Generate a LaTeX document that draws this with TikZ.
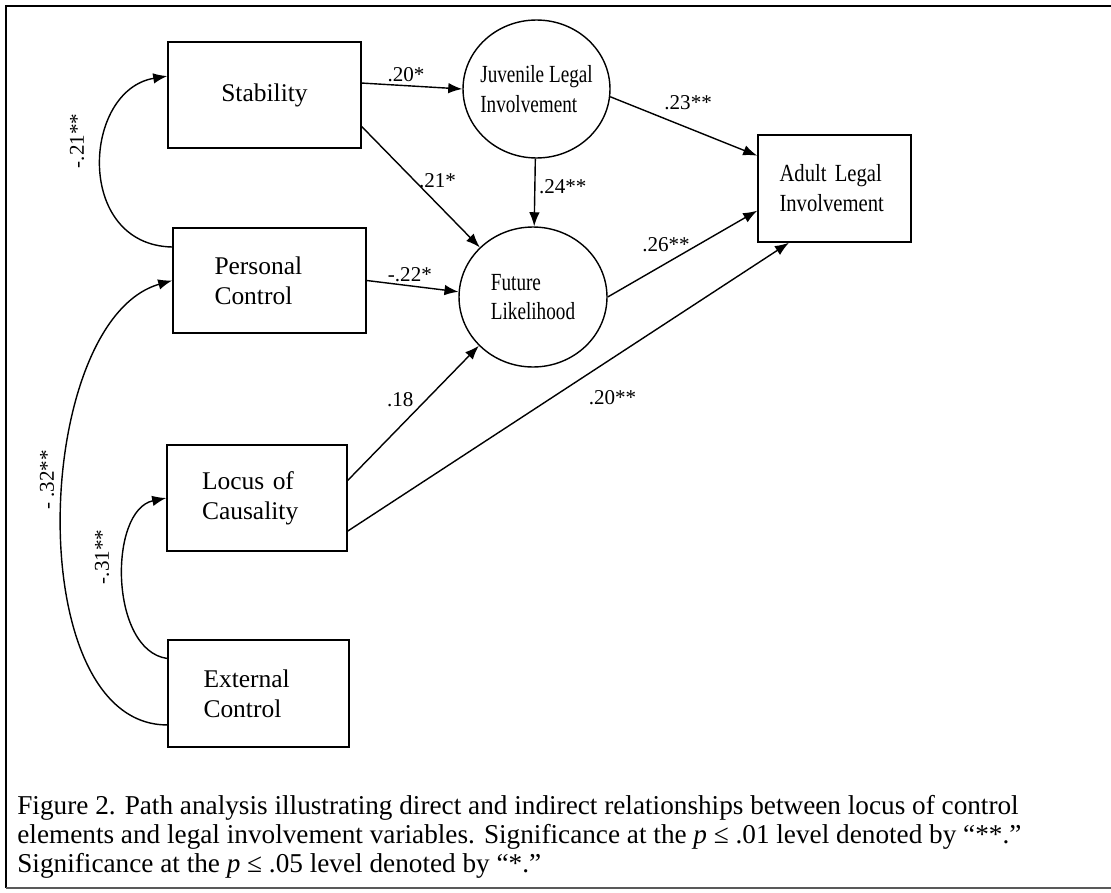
\documentclass[tikz,border=0pt]{standalone}
\usepackage{fontspec}
\setmainfont{Liberation Serif}
\newfontfamily\narrowA[FakeStretch=0.78]{Liberation Serif}
\newfontfamily\narrowB[FakeStretch=0.84]{Liberation Serif}
\usetikzlibrary{shapes.geometric, arrows.meta, calc}

\begin{document}
\begin{tikzpicture}[x=0.02cm, y=-0.02cm, font=\fontsize{14.5}{17}\selectfont]

\tikzstyle{var} = [rectangle, minimum width=3.86cm, minimum height=2.12cm, text width=2.2cm, align=left, inner sep=0pt, draw=black, line width=0.9pt]
\tikzstyle{latent} = [ellipse, minimum width=2.94cm, minimum height=2.76cm, align=left, inner sep=-6pt, draw=black, line width=0.8pt, font=\narrowA\fontsize{14}{17}\selectfont]
\tikzstyle{arrow} = [line width=0.8pt, -{Latex[length=8pt, width=6pt]}]
\tikzstyle{coef} = [font=\fontsize{12}{14}\selectfont, inner sep=2pt]

\useasboundingbox (0,0) rectangle (1111,892);
\draw [line width=1.3pt] (1111,6) -- (6,6) -- (6,888);
\draw [line width=1pt, black!65] (6,888) -- (1111,888);

\node (stab) [var, align=center] at (264.5,95) {Stability};
\node (pc) [var, minimum height=2.10cm] at (269.5,280.5) {Personal\\Control};
\node (loc) [var, minimum width=3.60cm] at (257,498) {Locus of\\Causality};
\node (ext) [var, minimum width=3.62cm, minimum height=2.14cm] at (258.5,693.5) {External\\Control};
\node (adult) [var, minimum width=3.06cm, minimum height=2.14cm, font=\narrowB\fontsize{14}{17}\selectfont] at (834.5,188.5) {Adult Legal\\Involvement};
\node (juv) [latent] at (536.5,89) {Juvenile Legal\\Involvement};
\node (fut) [latent, minimum width=2.96cm, minimum height=2.80cm] at (533,297) {Future\\Likelihood};

\draw [arrow] (stab.7) -- node[coef, pos=0.44, above] (c1) {.20*} (juv.west);
\draw [arrow] (stab.-18) -- node[coef, pos=0.45, right] (c2) {.21*} (fut.137);
\draw [arrow] (juv) -- node[coef, pos=0.42, right] (c3) {.24**} (fut);
\draw [arrow] (juv.-6) -- node[coef, pos=0.53, above=8pt] (c4) {.23**} (adult.157);
\draw [arrow] (fut.east) -- node[coef, pos=0.39, above=4pt] (c5) {.26**} (adult.196);
\draw [arrow] (pc.east) -- node[coef, pos=0.47, above] (c6) {-.22*} (fut.176);
\draw [arrow] (loc.11) -- node[coef, pos=0.6, left=5pt] (c7) {.18} (fut.222);
\draw [arrow] (loc.-20) -- node[coef, pos=0.6, below=16pt] (c8) {.20**} (adult.230);

% correlations between the locus elements
\draw [arrow] (pc.161) .. controls +(-98,-2) and +(-85,14) .. (stab.169);
\draw [arrow] (ext.199) .. controls +(-148,0) and +(-140,40) .. (pc.west);
\draw [arrow] (ext.159) .. controls +(-58,-8) and +(-58,12) .. (loc.west);
\node (r21) [coef, rotate=90] at (77,141) {-.21**};
\node (r32) [coef, rotate=90] at (47,480) {- .32**};
\node (r31) [coef, rotate=90] at (102,557) {-.31**};

\node (cap) [anchor=north west, align=left, inner sep=0pt, font=\fontsize{15.5}{16.5}\selectfont] at (17,795) {Figure 2. Path analysis illustrating direct and indirect relationships between locus of control\\elements and legal involvement variables. Significance at the \textit{p} ≤ .01 level denoted by “**.”\\Significance at the \textit{p} ≤ .05 level denoted by “*.”};
\end{tikzpicture}
\end{document}
